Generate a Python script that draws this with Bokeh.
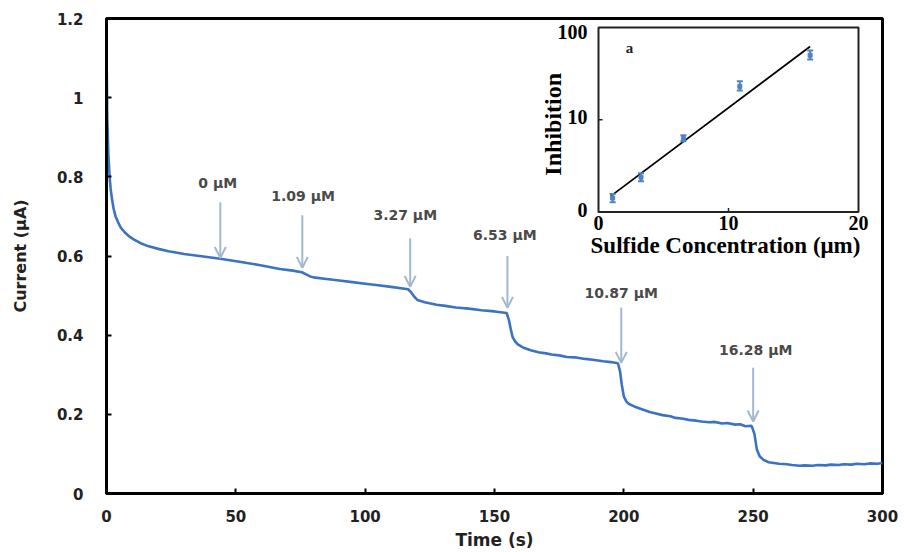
import numpy as np
from bokeh.plotting import figure
from bokeh.models import Range1d, LogScale, Arrow, OpenHead, ColumnDataSource
from bokeh.core.properties import value
from bokeh.embed import file_html
from bokeh.resources import INLINE

# ---------------- main chronoamperometry trace ----------------
time_s = [0, 0.3, 0.7, 1.2, 1.6, 2.2, 2.8, 3.5, 4.5, 5.5, 7, 8.5, 10.5, 13, 16, 20, 24, 30, 36, 44,
          52, 60, 67, 72, 75.5, 77, 78.5, 80, 85, 90, 95, 100, 105, 110, 116.6, 117.8, 119, 120.2,
          123, 127.6, 131, 135, 140, 145, 150, 154.7, 155.5, 156.3, 157, 158, 159, 161, 164, 167,
          170, 172, 175, 178, 181, 185, 188, 192, 195, 197.7, 198.5, 199.2, 200, 201, 202, 204,
          207, 210, 212, 215, 218, 220, 223, 225, 228, 230, 233, 235, 238, 240, 243, 245, 247,
          249.4, 250.5, 251.4, 252.5, 254, 256, 258, 260, 263, 265, 268, 270, 273, 275, 278, 280,
          283, 285, 288, 290, 293, 295, 298, 300]
current_uA = [1.13, 0.95, 0.86, 0.80, 0.77, 0.74, 0.718, 0.70, 0.685, 0.672, 0.66, 0.651, 0.642,
              0.633, 0.625, 0.618, 0.612, 0.605, 0.600, 0.593, 0.585, 0.576, 0.567, 0.563, 0.559,
              0.554, 0.549, 0.546, 0.542, 0.538, 0.534, 0.530, 0.526, 0.522, 0.516, 0.508, 0.497,
              0.489, 0.483, 0.477, 0.474, 0.470, 0.467, 0.463, 0.460, 0.456, 0.44, 0.415, 0.395,
              0.384, 0.377, 0.369, 0.362, 0.357, 0.354, 0.351, 0.349, 0.345, 0.344, 0.340, 0.338,
              0.334, 0.332, 0.329, 0.31, 0.275, 0.245, 0.232, 0.226, 0.220, 0.213, 0.206, 0.203,
              0.198, 0.195, 0.191, 0.189, 0.186, 0.184, 0.182, 0.180, 0.181, 0.177, 0.178, 0.174,
              0.175, 0.170, 0.171, 0.150, 0.112, 0.094, 0.085, 0.079, 0.077, 0.075, 0.074, 0.072,
              0.070, 0.071, 0.070, 0.072, 0.071, 0.073, 0.072, 0.074, 0.073, 0.075, 0.074, 0.076,
              0.075, 0.077]
assert len(time_s) == len(current_uA)

x_ticks = [0, 50, 100, 150, 200, 250, 300]
y_ticks = [0, 0.2, 0.4, 0.6, 0.8, 1, 1.2]
y_tick_labels = ["0", "0.2", "0.4", "0.6", "0.8", "1", "1.2"]

# injection markers
conc_labels = ["0 μM", "1.09 μM", "3.27 μM", "6.53 μM", "10.87 μM", "16.28 μM"]
arrow_t = [44, 75.7, 117.4, 155, 199, 250]
arrow_top = [0.736, 0.703, 0.645, 0.600, 0.469, 0.318]
arrow_tip = [0.595, 0.570, 0.522, 0.469, 0.330, 0.182]
label_t = [43, 76, 115.5, 154, 199, 251]
label_y = [0.784, 0.751, 0.703, 0.653, 0.507, 0.363]

# ---------------- inset ----------------
sulfide = [1.09, 3.27, 6.53, 10.87, 16.28]
inhibition = [1.42, 2.39, 6.3, 23.0, 50.0]
inh_low = [1.28, 2.16, 5.86, 20.8, 45.1]
inh_high = [1.57, 2.64, 6.8, 26.1, 56.4]
inset_x_ticks = [0, 10, 20]
inset_x_tick_labels = ["0", "10", "20"]
inset_y_ticks = [1, 10, 100]
inset_y_tick_labels = ["0", "10", "100"]
inset_xlim = [0, 20]
inset_ylim = [1, 100]

# ---------------- layout geometry (pixels) ----------------
W, H = 904, 552
FL, FR, FT, FB = 106, 882, 18, 494          # main frame
IL, IR, IT, IB = 598, 858, 27, 212          # inset frame

sx = (inset_xlim[1] - inset_xlim[0]) / (IR - IL)
dy = (np.log10(inset_ylim[1]) - np.log10(inset_ylim[0])) / (IB - IT)


def ix(px):
    return inset_xlim[0] + (px - IL) * sx


def iy(py):
    return 10 ** (np.log10(inset_ylim[0]) + (IB - py) * dy)


ix_range = Range1d(ix(FL), ix(FR))
iy_range = Range1d(iy(FB), iy(FT))

p = figure(width=W, height=H, x_range=Range1d(0, 300), y_range=Range1d(0, 1.2),
           output_backend="svg", toolbar_location=None,
           min_border_left=FL, min_border_right=W - FR, min_border_top=FT, min_border_bottom=H - FB,
           extra_x_ranges={"ix": ix_range}, extra_y_ranges={"iy": iy_range},
           extra_y_scales={"iy": LogScale()})

p.background_fill_color = "white"
p.border_fill_color = "white"
p.outline_line_color = "black"
p.outline_line_width = 3
p.grid.visible = False

line_blue = "#3b72c2"
p.line(time_s, current_uA, line_color=line_blue, line_width=2.6)

arrow_col = "#a3b8cf"
src = ColumnDataSource(dict(x0=arrow_t, y0=arrow_top, x1=arrow_t, y1=arrow_tip))
p.add_layout(Arrow(end=OpenHead(size=11, line_color=arrow_col, line_width=2),
                   source=src, x_start="x0", y_start="y0", x_end="x1", y_end="y1",
                   line_color=arrow_col, line_width=2))
p.text(x=label_t, y=label_y, text=conc_labels, text_align="center", text_baseline="middle",
       text_font=value("DejaVu Sans"), text_font_size="14px", text_font_style="bold",
       text_color="#4a4a4a")

# axes
p.xaxis.ticker = x_ticks
p.yaxis.ticker = y_ticks
p.yaxis.major_label_overrides = dict(zip(y_ticks, y_tick_labels))
for ax in (p.xaxis[0], p.yaxis[0]):
    ax.axis_line_width = 3
    ax.axis_line_color = "black"
    ax.major_tick_in = 5
    ax.major_tick_out = 0
    ax.major_tick_line_width = 2
    ax.major_tick_line_color = "black"
    ax.minor_tick_line_color = None
    ax.major_label_text_font = "DejaVu Sans"
    ax.major_label_text_font_style = "bold"
    ax.major_label_text_font_size = "15px"
    ax.major_label_text_color = "#222222"
    ax.axis_label_text_font = "DejaVu Sans"
    ax.axis_label_text_font_style = "bold"
    ax.axis_label_text_color = "#222222"
p.xaxis.axis_label = "Time (s)"
p.yaxis.axis_label = "Current (μA)"
p.xaxis.axis_label_text_font_size = "17px"
p.yaxis.axis_label_text_font_size = "16px"
p.xaxis.major_label_standoff = 16
p.yaxis.major_label_standoff = 23
p.xaxis.axis_label_standoff = 5
p.yaxis.axis_label_standoff = 24

# ---------------- inset drawing ----------------
kw = dict(x_range_name="ix", y_range_name="iy")
p.quad(left=[inset_xlim[0]], right=[inset_xlim[1]], bottom=[inset_ylim[0]], top=[inset_ylim[1]],
       fill_color="white", line_color="#222222", line_width=2, **kw)
# small inward ticks
p.segment(x0=[inset_x_ticks[1]], y0=[inset_ylim[0]], x1=[inset_x_ticks[1]], y1=[iy(IB - 4)],
          line_color="#222222", line_width=1.5, **kw)
p.segment(x0=[inset_xlim[0]], y0=[inset_y_ticks[1]], x1=[ix(IL + 4)], y1=[inset_y_ticks[1]],
          line_color="#222222", line_width=1.5, **kw)

# exponential fit (log-linear regression of the data)
slope, icpt = np.polyfit(sulfide, np.log10(inhibition), 1)
fit_x = np.array([sulfide[0] - 0.15, sulfide[-1]])
p.line(fit_x, 10 ** (icpt + slope * fit_x), line_color="black", line_width=1.8, **kw)

err_col = "#4f84c4"
p.segment(x0=sulfide, y0=inh_low, x1=sulfide, y1=inh_high, line_color=err_col, line_width=2, **kw)
p.scatter(sulfide, inh_low, marker="dash", size=6, line_color=err_col, line_width=2, **kw)
p.scatter(sulfide, inh_high, marker="dash", size=6, line_color=err_col, line_width=2, **kw)
p.scatter(sulfide, inhibition, marker="square", size=4, fill_color=err_col, line_color=err_col, **kw)

serif = value("Liberation Serif")
p.text(x=[inset_xlim[0]] * 3, y=[iy(210), iy(117), iy(32)], text=inset_y_tick_labels,
       x_offset=-11, text_align="right", text_baseline="middle", text_font=serif,
       text_font_style="bold", text_font_size="20px", text_color="black", **kw)
p.text(x=inset_x_ticks, y=[iy(223)] * 3, text=inset_x_tick_labels, text_align="center",
       text_baseline="middle", text_font=serif, text_font_style="bold", text_font_size="20px",
       text_color="black", **kw)
p.text(x=[ix(552)], y=[iy(124)], text=["Inhibition"], angle=np.pi / 2, text_align="center",
       text_baseline="middle", text_font=serif, text_font_style="bold", text_font_size="24px",
       text_color="black", **kw)
p.text(x=[ix(725)], y=[iy(245)], text=["Sulfide Concentration (μm)"], text_align="center",
       text_baseline="middle", text_font=serif, text_font_style="bold", text_font_size="23px",
       text_color="black", **kw)
p.text(x=[ix(629)], y=[iy(48)], text=["a"], text_align="center", text_baseline="middle",
       text_font=serif, text_font_style="bold", text_font_size="15px", text_color="#222222", **kw)

open("out.html", "w").write(file_html(p, INLINE))
